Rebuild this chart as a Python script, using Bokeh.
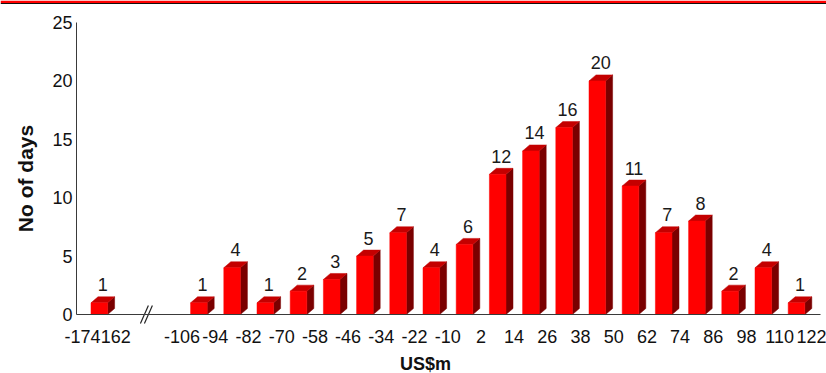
import math

from bokeh.core.properties import value
from bokeh.embed import file_html
from bokeh.models import FixedTicker, Label, LinearAxis, Range1d
from bokeh.plotting import figure
from bokeh.resources import INLINE

# Daily result distribution, US$m bins (12m wide), with one far outlier bin
outlier_edges = [-174, -162]
outlier_counts = [1]
main_edges = [-106, -94, -82, -70, -58, -46, -34, -22, -10, 2,
              14, 26, 38, 50, 62, 74, 86, 98, 110, 122]
main_counts = [1, 4, 1, 2, 3, 5, 7, 4, 6, 12, 14, 16, 20, 11, 7, 8, 2, 4, 1]
x_tick_labels = ["-174", "162"] + [str(e) for e in main_edges]
y_ticks = [0, 5, 10, 15, 20, 25]
y_title = "No of days"
x_title = "US$m"

# ---- geometry (pixels) ----
W, H = 826, 373
X0, SX = 82.0, 33.2      # pixel of slot 0, pixels per bin slot
Y0, SY = 314.0, 11.68    # pixel of count 0, pixels per day
GAP = 2                  # empty slots where the axis is broken
AXIS_LEFT_PX, AXIS_RIGHT_PX = 76.0, 820.0
FRONT_OFF, FRONT_W = 8.5, 16.6
DEPTH_X, DEPTH_Y = 7.0, 6.0
FONT = "Liberation Sans"
NUM_SIZE = "18px"


def xd(px):
    return (px - X0) / SX


def yd(py):
    return (Y0 - py) / SY


# slot index of every bin edge: outliers first, then the main run after the break
n_out = len(outlier_edges)
edge_slots = list(range(n_out)) + [n_out - 1 + GAP + i for i in range(len(main_edges))]
bin_slots = edge_slots[: n_out - 1] + edge_slots[n_out: n_out + len(main_counts)]
counts = outlier_counts + main_counts

p = figure(width=W, height=H,
           x_range=Range1d(xd(0), xd(W)), y_range=Range1d(yd(H), yd(0)),
           output_backend="svg", toolbar_location=None,
           x_axis_location=None, y_axis_location=None,
           min_border=0, outline_line_color=None,
           background_fill_color="white", border_fill_color="white")
for g in p.grid:
    g.visible = False

# ---- 3D bars ----
dx, dy = DEPTH_X / SX, DEPTH_Y / SY
lefts = [s + FRONT_OFF / SX for s in bin_slots]
rights = [l + FRONT_W / SX for l in lefts]

top_xs, top_ys, side_xs, side_ys = [], [], [], []
for l, r, c in zip(lefts, rights, counts):
    top_xs.append([l, r, r + dx, l + dx])
    top_ys.append([c, c, c + dy, c + dy])
    side_xs.append([r, r + dx, r + dx, r])
    side_ys.append([0, dy, c + dy, c])

p.patches(side_xs, side_ys, fill_color="#7a0000", line_color="#7a0000", line_width=0.5)
p.patches(top_xs, top_ys, fill_color="#c40000", line_color="#c40000", line_width=0.5)
p.quad(left=lefts, right=rights, bottom=0, top=counts,
       fill_color="#ff0000", line_color="#ff0000", line_width=0.5)

# value labels above each bar
label_x = [l + (FRONT_W + DEPTH_X) / 2 / SX for l in lefts]
label_y = [c + dy + 12 / SY for c in counts]
p.text(x=label_x, y=label_y, text=[str(c) for c in counts],
       text_font=value(FONT), text_font_size=NUM_SIZE,
       text_color="#1a1a1a", text_align="center", text_baseline="alphabetic")

# ---- axes ----
yaxis = LinearAxis(fixed_location=xd(AXIS_LEFT_PX), bounds=(0, y_ticks[-1]),
                   ticker=FixedTicker(ticks=y_ticks))
xaxis = LinearAxis(fixed_location=0, bounds=(xd(AXIS_LEFT_PX), xd(AXIS_RIGHT_PX)),
                   ticker=FixedTicker(ticks=edge_slots),
                   major_label_overrides={s: t for s, t in zip(edge_slots, x_tick_labels)})
for ax in (xaxis, yaxis):
    ax.axis_line_color = "#3a3a3a"
    ax.axis_line_width = 1
    ax.major_tick_in = 0
    ax.major_tick_out = 0
    ax.minor_tick_in = 0
    ax.minor_tick_out = 0
    ax.major_label_text_font = FONT
    ax.major_label_text_font_size = NUM_SIZE
    ax.major_label_text_color = "#111111"
yaxis.major_label_standoff = 4
xaxis.major_label_standoff = 15
p.add_layout(yaxis, "left")
p.add_layout(xaxis, "below")

# axis break marks between the outlier bin and the main run
brk_px = (X0 + SX * (edge_slots[n_out - 1] + edge_slots[n_out]) / 2) - 2.5
for off in (-2.0, 2.0):
    p.segment(x0=[xd(brk_px + off - 4)], y0=[yd(Y0 + 9)],
              x1=[xd(brk_px + off + 4)], y1=[yd(Y0 - 9)],
              line_color="#222222", line_width=1.2)

# ---- titles ----
p.add_layout(Label(x=xd(25), y=yd(178), text=y_title, angle=math.pi / 2,
                   text_align="center", text_baseline="middle",
                   text_font=FONT, text_font_style="bold",
                   text_font_size="21px", text_color="#111111"))
p.add_layout(Label(x=xd(425), y=yd(363), text=x_title,
                   text_align="center", text_baseline="middle",
                   text_font=FONT, text_font_style="bold",
                   text_font_size="18px", text_color="#111111"))

# red rule with a thin dark underline across the top
x_lo, x_hi = p.x_range.start, p.x_range.end
p.quad(left=[x_lo], right=[x_hi], top=[yd(0)], bottom=[yd(2.5)],
       fill_color="#ff0000", line_color=None)
p.quad(left=[x_lo], right=[x_hi], top=[yd(2.5)], bottom=[yd(3.5)],
       fill_color="#111111", line_color=None)

open("out.html", "w").write(file_html(p, INLINE))
